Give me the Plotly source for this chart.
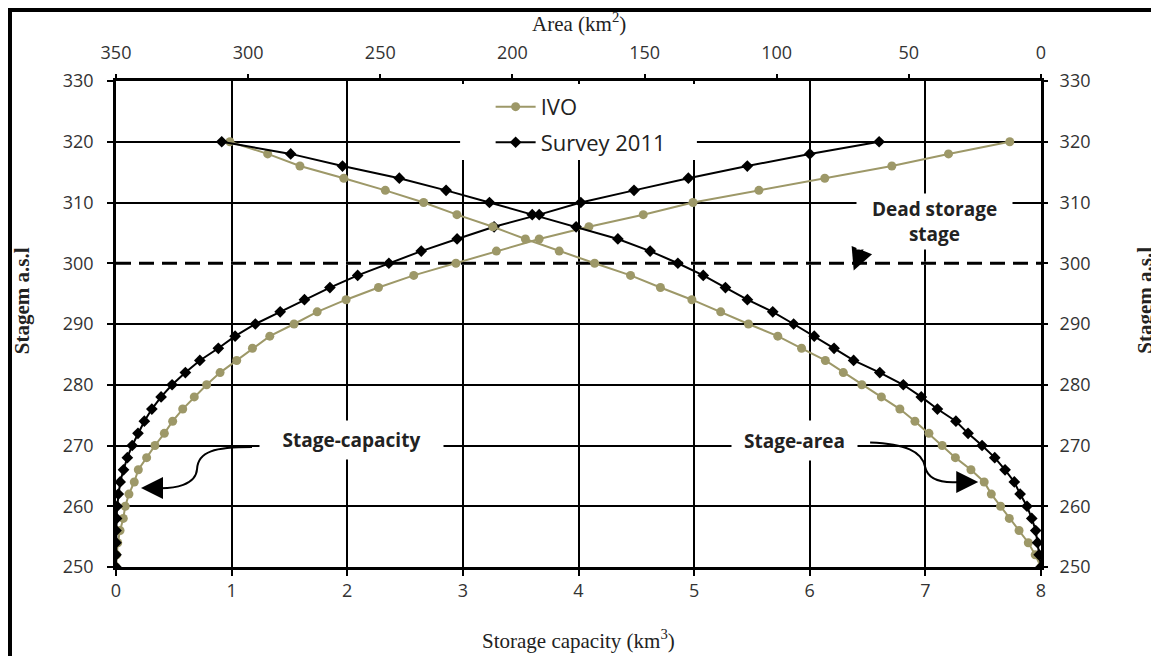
import plotly.graph_objects as go

# ---------------- data ----------------
stage = [250, 252, 254, 256, 258, 260, 262, 264, 266, 268, 270, 272, 274, 276, 278, 280, 282, 284,
         286, 288, 290, 292, 294, 296, 298, 300, 302, 304, 306, 308, 310, 312, 314, 316, 318, 320]

# storage capacity (km3)
ivo_capacity = [0.0, 0.005, 0.015, 0.035, 0.063, 0.08, 0.112, 0.158, 0.193, 0.265, 0.337, 0.418,
                0.49, 0.577, 0.677, 0.784, 0.90, 1.044, 1.18, 1.33, 1.54, 1.74, 1.99, 2.27,
                2.575, 2.94, 3.29, 3.66, 4.09, 4.56, 4.99, 5.56, 6.13, 6.71, 7.20, 7.73]
survey_capacity = [0.0, 0.0, 0.0, 0.0, 0.005, 0.01, 0.02, 0.036, 0.065, 0.098, 0.14, 0.19,
                   0.245, 0.31, 0.39, 0.485, 0.60, 0.725, 0.885, 1.03, 1.205, 1.42, 1.63, 1.85,
                   2.09, 2.36, 2.64, 2.95, 3.27, 3.66, 4.02, 4.48, 4.95, 5.46, 6.00, 6.60]

# surface area (km2)
ivo_area = [0.0, 2.2, 4.8, 8.3, 12.0, 15.3, 18.8, 21.5, 26.5, 32.4, 37.4, 42.4, 47.7, 53.4,
            60.4, 67.8, 74.8, 81.6, 90.6, 99.6, 110.7, 121.2, 132.1, 144.0, 155.3, 168.9,
            182.3, 195.1, 207.4, 221.0, 233.6, 248.1, 263.8, 280.4, 292.6, 306.9]
survey_area = [0.0, 0.7, 1.3, 2.0, 3.5, 5.3, 7.9, 10.1, 13.6, 17.5, 22.3, 27.6, 32.2, 39.2,
               45.3, 52.1, 61.0, 70.9, 78.3, 85.8, 93.6, 101.5, 111.1, 119.4, 127.8, 137.4,
               147.9, 160.1, 175.9, 192.5, 208.7, 225.1, 242.8, 264.3, 283.9, 310.0]

capacity_ticks = [0, 1, 2, 3, 4, 5, 6, 7, 8]
area_ticks = [350, 300, 250, 200, 150, 100, 50, 0]
stage_ticks = [250, 260, 270, 280, 290, 300, 310, 320, 330]
dead_storage_stage = 300

OLIVE = "#9d9868"
TICKFONT = dict(family="Open Sans", size=18, color="#333333")
SERIF = "Liberation Serif"

fig = go.Figure()

fig.add_trace(go.Scatter(x=ivo_capacity, y=stage, name="IVO", legendgroup="ivo",
                         mode="lines+markers", xaxis="x", yaxis="y",
                         line=dict(color=OLIVE, width=2),
                         marker=dict(symbol="circle", size=9, color=OLIVE)))
fig.add_trace(go.Scatter(x=survey_capacity, y=stage, name="Survey 2011", legendgroup="survey",
                         mode="lines+markers", xaxis="x", yaxis="y",
                         line=dict(color="black", width=2),
                         marker=dict(symbol="diamond", size=9, color="black")))
fig.add_trace(go.Scatter(x=ivo_area, y=stage, name="IVO", legendgroup="ivo", showlegend=False,
                         mode="lines+markers", xaxis="x2", yaxis="y",
                         line=dict(color=OLIVE, width=2),
                         marker=dict(symbol="circle", size=9, color=OLIVE)))
fig.add_trace(go.Scatter(x=survey_area, y=stage, name="Survey 2011", legendgroup="survey",
                         showlegend=False, mode="lines+markers", xaxis="x2", yaxis="y",
                         line=dict(color="black", width=2),
                         marker=dict(symbol="diamond", size=9, color="black")))
# empty trace so the right-hand stage axis is drawn
fig.add_trace(go.Scatter(x=[], y=[], xaxis="x", yaxis="y2", showlegend=False, hoverinfo="skip"))

# dead storage line (white underlay hides the gridline in the dash gaps)
fig.add_shape(type="line", xref="x", yref="y", x0=capacity_ticks[0], x1=capacity_ticks[-1],
              y0=dead_storage_stage, y1=dead_storage_stage, layer="between",
              line=dict(color="white", width=3))
fig.add_shape(type="line", xref="x", yref="y", x0=capacity_ticks[0], x1=capacity_ticks[-1],
              y0=dead_storage_stage, y1=dead_storage_stage, layer="between",
              line=dict(color="black", width=3, dash="15px,8px"))

# curved callout arrows (annotation decoration)
arrow_paths = [
    "M 1.176,269.74 C 0.856,269.74 0.709,269.08 0.701,266.13 C 0.692,263.5 0.510,262.84 0.34,263.0",
    "M 6.522,270.48 C 6.825,270.23 6.972,269.08 6.998,266.45 C 7.024,264.15 7.171,263.83 7.29,263.99",
    "M 6.730,304.30 C 6.560,304.10 6.470,303.20 6.445,301.9",
]
for p in arrow_paths:
    fig.add_shape(type="path", xref="x", yref="y", path=p, layer="above",
                  line=dict(color="black", width=2))
heads = [((0.216, 263.0), (0.36, 263.0)),
         ((7.457, 263.99), (7.27, 263.99)),
         ((6.380, 298.8), (6.445, 301.9))]
for (tx, ty), (sx, sy) in heads:
    fig.add_annotation(x=tx, y=ty, ax=sx, ay=sy, xref="x", yref="y", axref="x", ayref="y",
                       text="", showarrow=True, arrowhead=2, arrowsize=2.2, arrowwidth=2,
                       arrowcolor="black")

labelfont = dict(family="Open Sans", size=19, color="#222222")
fig.add_annotation(x=2.037, y=270.9, xref="x", yref="y", text="<b>Stage-capacity</b>",
                   showarrow=False, bgcolor="white", width=183, height=38, borderpad=0,
                   font=labelfont)
fig.add_annotation(x=5.869, y=270.8, xref="x", yref="y", text="<b>Stage-area</b>",
                   showarrow=False, bgcolor="white", width=125, height=39, borderpad=0,
                   font=labelfont)
fig.add_annotation(x=7.080, y=306.8, xref="x", yref="y", text="<b>Dead storage<br>stage</b>",
                   showarrow=False, bgcolor="white", width=155, height=55, borderpad=0,
                   font=labelfont)

# axis titles
fig.add_annotation(x=0.5, y=-0.150, xref="paper", yref="paper", showarrow=False,
                   xanchor="center", yanchor="middle",
                   text="Storage capacity (km<sup>3</sup>)",
                   font=dict(family=SERIF, size=21, color="#222222"))
fig.add_annotation(x=0.5, y=1.121, xref="paper", yref="paper", showarrow=False,
                   xanchor="center", yanchor="middle",
                   text="Area (km<sup>2</sup>)",
                   font=dict(family=SERIF, size=21, color="#222222"))
fig.add_annotation(x=-0.1022, y=0.548, xref="paper", yref="paper", showarrow=False,
                   xanchor="center", yanchor="middle",
                   text="<b>Stagem a.s.l</b>", textangle=-90,
                   font=dict(family=SERIF, size=21, color="#222222"))
fig.add_annotation(x=1.1125, y=0.548, xref="paper", yref="paper", showarrow=False,
                   xanchor="center", yanchor="middle",
                   text="<b>Stagem a.s.l</b>", textangle=-90,
                   font=dict(family=SERIF, size=21, color="#222222"))

# legend background and outer frame
fig.add_shape(type="rect", xref="paper", yref="paper", x0=0.372, x1=0.628, y0=0.8374, y1=0.994,
              fillcolor="white", line=dict(width=0), layer="above")
fig.add_shape(type="rect", xref="paper", yref="paper", x0=-0.1146, x1=1.1232, y0=-0.30, y1=1.146,
              line=dict(color="black", width=4), fillcolor="rgba(0,0,0,0)", layer="above")

fig.update_layout(
    width=1151, height=648,
    margin=dict(l=108, r=118, t=73, b=89),
    paper_bgcolor="white", plot_bgcolor="white",
    showlegend=True,
    legend=dict(x=0.405, y=0.99, xanchor="left", yanchor="top", bgcolor="rgba(0,0,0,0)",
                font=dict(family="Open Sans", size=22, color="#222222"),
                tracegroupgap=4, itemwidth=40),
    xaxis=dict(range=[capacity_ticks[0], capacity_ticks[-1]], tickvals=capacity_ticks,
               showgrid=True, gridcolor="black", gridwidth=1.5,
               showline=True, linecolor="black", linewidth=2.5, mirror=True,
               ticks="outside", ticklen=6, tickwidth=2, tickcolor="black",
               tickfont=TICKFONT, zeroline=False),
    xaxis2=dict(range=[area_ticks[0], area_ticks[-1]], tickvals=area_ticks,
                overlaying="x", side="top", anchor="y", showgrid=False,
                ticks="outside", ticklen=6, tickwidth=2, tickcolor="black",
                tickfont=TICKFONT, zeroline=False, ticklabelstandoff=8),
    yaxis=dict(range=[stage_ticks[0], stage_ticks[-1]], tickvals=stage_ticks,
               showgrid=True, gridcolor="black", gridwidth=1.5,
               showline=True, linecolor="black", linewidth=2.5, mirror=True,
               ticks="outside", ticklen=6, tickwidth=2, tickcolor="black",
               tickfont=TICKFONT, zeroline=False, ticklabelstandoff=10),
    yaxis2=dict(range=[stage_ticks[0], stage_ticks[-1]], tickvals=stage_ticks,
                overlaying="y", side="right", anchor="x", showgrid=False,
                ticks="outside", ticklen=6, tickwidth=2, tickcolor="black",
                tickfont=TICKFONT, zeroline=False, ticklabelstandoff=8),
)

fig.write_html("out.html")
